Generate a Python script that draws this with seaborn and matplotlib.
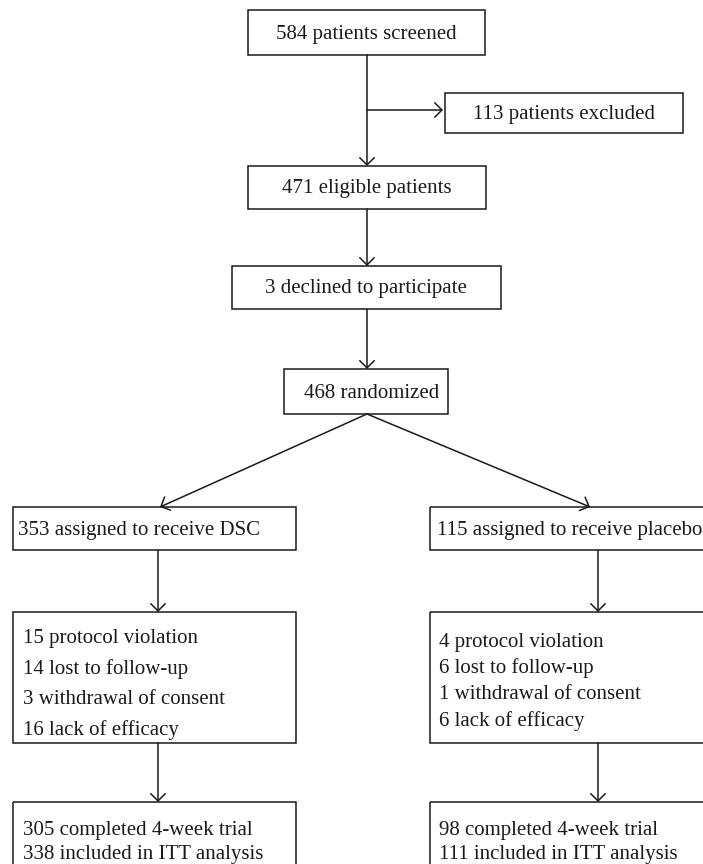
import matplotlib
matplotlib.use("Agg")
import matplotlib.pyplot as plt
import seaborn as sns
from matplotlib.patches import Rectangle

# flow counts
screened = 584
excluded = 113
eligible = 471
declined = 3
randomized = 468
arm_names = ["DSC", "placebo"]
arm_sizes = [353, 115]
reasons = ["protocol violation", "lost to follow-up", "withdrawal of consent", "lack of efficacy"]
dsc_dropouts = [15, 14, 3, 16]
placebo_dropouts = [4, 6, 1, 6]
completed = [305, 98]
itt = [338, 111]

sns.set_theme(style="white")
plt.rcParams["font.family"] = ["Liberation Serif", "DejaVu Serif"]

INK = "#1a1a1a"
FS = 15

fig = plt.figure(figsize=(7.03, 8.64), dpi=100)
ax = fig.add_axes([0, 0, 1, 1])
ax.set_xlim(0, 703)
ax.set_ylim(864, 0)
ax.axis("off")


def box(x0, y0, x1, y1):
    ax.add_patch(Rectangle((x0, y0), x1 - x0, y1 - y0, fill=False,
                           edgecolor=INK, lw=1.1, clip_on=False))


def arrow(x0, y0, x1, y1):
    ax.annotate("", xy=(x1, y1), xytext=(x0, y0),
                arrowprops=dict(arrowstyle="->,head_length=0.4,head_width=0.4",
                                color=INK, lw=1.1, mutation_scale=13,
                                shrinkA=0, shrinkB=0))


def label(x, y, s, ha="center"):
    # small nudge so the serif text sits centred like the original
    ax.text(x, y + 2, s, ha=ha, va="center", fontsize=FS, color=INK)


# top of the chart
box(248, 10, 485, 55)
label(366, 32, f"{screened} patients screened")
box(445, 93, 683, 133)
label(564, 113, f"{excluded} patients excluded")
ax.plot([367, 367], [55, 110], color=INK, lw=1.1)
arrow(367, 110, 443, 110)
arrow(367, 110, 367, 166)

box(248, 166, 486, 209)
label(367, 187, f"{eligible} eligible patients")
arrow(367, 209, 367, 266)

box(232, 266, 501, 309)
label(366, 287, f"{declined} declined to participate")
arrow(367, 309, 367, 369)

box(284, 369, 448, 414)
label(372, 391, f"{randomized} randomized")

# two arms
cols = [dict(bx=13, tx=18, lx=23, vx=158, tip=160, right=296, gap=30.7, first=636),
        dict(bx=430, tx=437, lx=439, vx=598, tip=590, right=760, gap=26.3, first=640)]
drops = [dsc_dropouts, placebo_dropouts]

for i, c in enumerate(cols):
    arrow(367, 414, c["tip"], 507)
    box(c["bx"], 507, c["right"], 550)
    label(c["tx"], 529, f"{arm_sizes[i]} assigned to receive {arm_names[i]}", ha="left")
    arrow(c["vx"], 550, c["vx"], 612)

    box(c["bx"], 612, c["right"], 743)
    for j, (n, r) in enumerate(zip(drops[i], reasons)):
        label(c["lx"], c["first"] + j * c["gap"], f"{n} {r}", ha="left")
    arrow(c["vx"], 743, c["vx"], 802)

    box(c["bx"], 802, c["right"], 900)
    label(c["lx"], 828, f"{completed[i]} completed 4-week trial", ha="left")
    label(c["lx"], 853, f"{itt[i]} included in ITT analysis", ha="left")

fig.savefig("out.png", dpi=100)
